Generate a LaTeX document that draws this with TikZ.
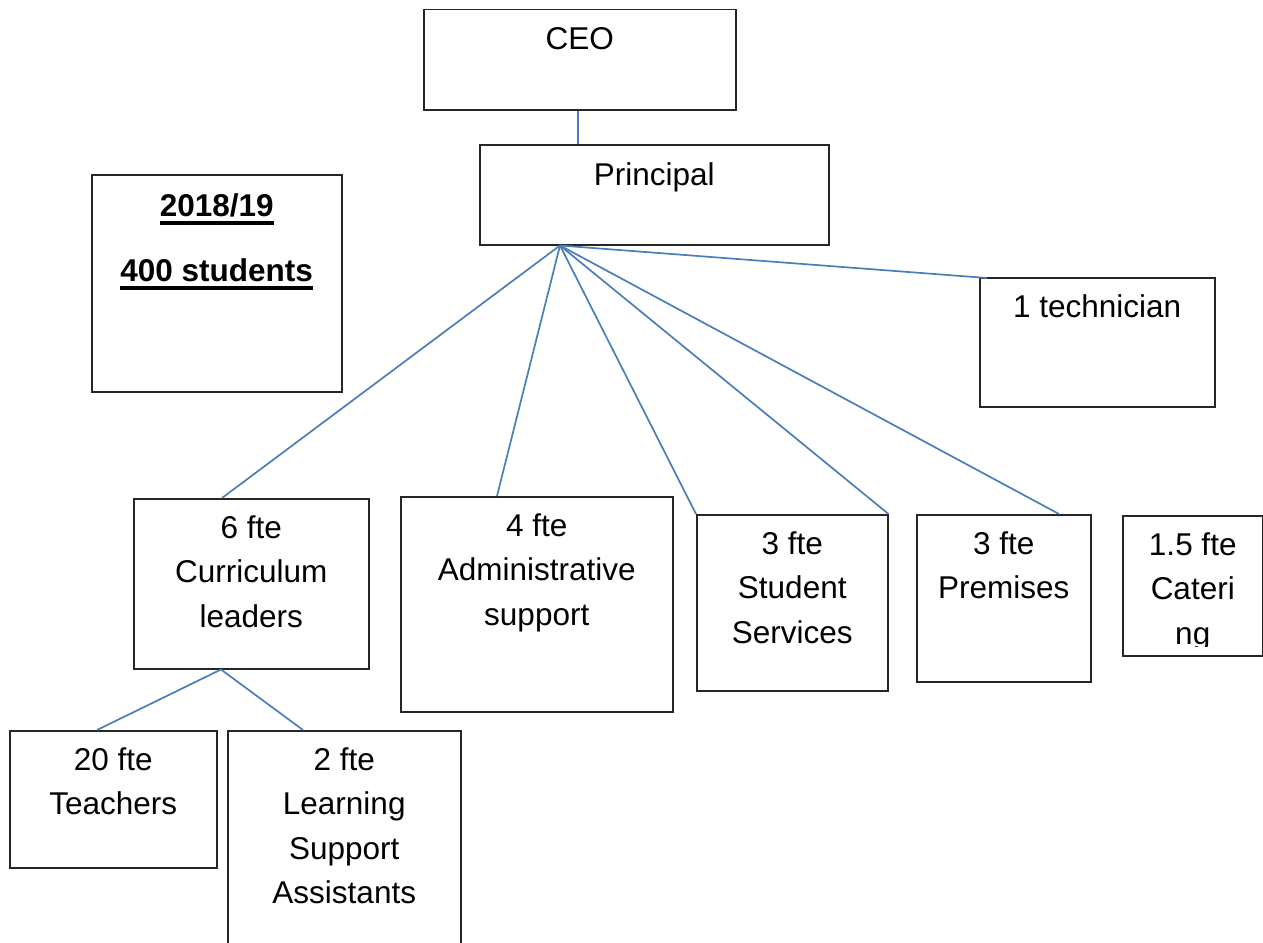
\documentclass[tikz,border=0pt]{standalone}
\usepackage{fontspec}
\setmainfont{Liberation Sans}
\usetikzlibrary{calc}
\definecolor{linkblue}{RGB}{74,126,187}
% thick underline used in the year box
\newcommand\thickul[1]{\setbox0\hbox{#1}\rlap{\rule[-8.5pt]{\wd0}{3.5pt}}\box0}
\begin{document}
\begin{tikzpicture}[x=1pt,y=-1pt,
  box/.style={draw=black!85,line width=1.5pt,anchor=north west,inner sep=0pt,fill=white},
  txt/.style={anchor=north,inner sep=0pt,align=center,
    font=\fontsize{31.5}{44.5}\selectfont},
  link/.style={draw=linkblue,line width=1.7pt}]
\useasboundingbox (0,0) rectangle (1263,942);
\clip (0,0) rectangle (1263,942);

% boxes
\node[box,minimum width=312pt,minimum height=100pt] (ceo)  at (423,9)   {};
\node[box,minimum width=349pt,minimum height=100pt] (prin) at (479,144) {};
\node[box,minimum width=250pt,minimum height=217pt] (yr)   at (91,174)  {};
\node[box,minimum width=235pt,minimum height=129pt] (tech) at (979,277) {};
\node[box,minimum width=235pt,minimum height=170pt] (cur)  at (133,498) {};
\node[box,minimum width=272pt,minimum height=215pt] (adm)  at (400,496) {};
\node[box,minimum width=191pt,minimum height=176pt] (ss)   at (696,514) {};
\node[box,minimum width=174pt,minimum height=167pt] (prem) at (916,514) {};
\node[box,minimum width=140pt,minimum height=140pt] (cat)  at (1122,515) {};
\node[box,minimum width=207pt,minimum height=137pt] (tea)  at (9,730)   {};
\node[box,minimum width=233pt,minimum height=240pt] (lsa)  at (227,730) {};

% texts
\node[txt] (ceoT)  at ([yshift=-18pt]ceo.north)  {CEO};
\node[txt] (prinT) at ([yshift=-18pt]prin.north) {Principal};
\node[txt,font=\fontsize{31.5}{44.5}\selectfont\bfseries] (yrT) at ([yshift=-19pt]yr.north)
  {\thickul{2018/19}\\[20.5pt]\thickul{400 students}};
\node[txt] (techT) at ([yshift=-17pt]tech.north) {1 technician};
\node[txt] (curT)  at ([yshift=-17pt]cur.north)  {6 fte\\Curriculum\\leaders};
\node[txt] (admT)  at ([yshift=-17pt]adm.north)  {4 fte\\Administrative\\support};
\node[txt] (ssT)   at ([yshift=-17pt]ss.north)   {3 fte\\Student\\Services};
\node[txt] (premT) at ([yshift=-17pt]prem.north) {3 fte\\Premises};
\begin{scope}
  \clip (cat.north west) rectangle ([yshift=10pt]cat.south east);
  \node[txt] (catT) at ([yshift=-17pt]cat.north) {1.5 fte\\Cateri\\ng};
\end{scope}
\node[txt] (teaT)  at ([yshift=-17pt]tea.north)  {20 fte\\Teachers};
\node[txt] (lsaT)  at ([yshift=-17pt]lsa.north)  {2 fte\\Learning\\Support\\Assistants};

% connectors
\coordinate (hub) at ($(prin.south west)+(81pt,0)$);
\coordinate (curtop) at ($(cur.north west)+(89pt,0)$);
\coordinate (curbot) at ($(cur.south west)+(88pt,0)$);
\coordinate (admtop) at ($(adm.north west)+(97pt,0)$);
\coordinate (premtop) at ($(prem.north west)+(143pt,0)$);
\coordinate (techtop) at ($(tech.north west)+(8pt,-1pt)$);
\coordinate (teatop) at ($(tea.north west)+(88pt,0)$);
\coordinate (lsatop) at ($(lsa.north west)+(76pt,0)$);

\draw[link] (ceo.south -| hub) ++(18pt,0) coordinate (ceobot) -- (ceobot |- prin.north);
\draw[link] (hub) -- (curtop);
\draw[link] (hub) -- (admtop);
\draw[link] (hub) -- (ss.north west);
\draw[link] (hub) -- (ss.north east);
\draw[link] (hub) -- (premtop);
\draw[link] (hub) -- (techtop);
\draw[link] (curbot) -- (teatop);
\draw[link] (curbot) -- (lsatop);
\end{tikzpicture}
\end{document}
